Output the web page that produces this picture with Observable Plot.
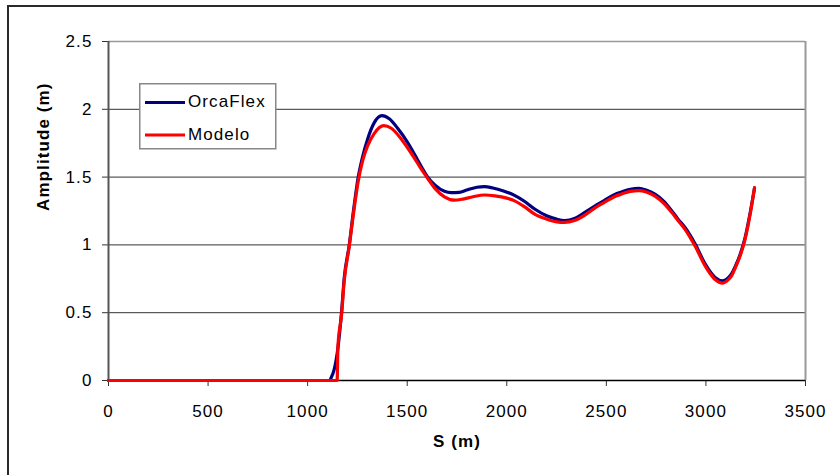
<!DOCTYPE html>
<html><head><meta charset="utf-8">
<script src="https://cdn.jsdelivr.net/npm/d3@7"></script>
<script src="https://cdn.jsdelivr.net/npm/@observablehq/plot@0.6"></script>
<style>
body{margin:0;background:#fff;}
#wrap{position:relative;width:840px;height:475px;overflow:hidden;font-family:"Liberation Sans",Arial,sans-serif;}
#frame{position:absolute;left:7px;top:5px;width:900px;height:500px;border-top:2px solid #2a2a2a;border-left:2px solid #2a2a2a;pointer-events:none;}
#chart{position:absolute;left:0;top:0;}
#chart svg text{letter-spacing:1.1px;}
#legend{position:absolute;left:139px;top:83px;}
</style>
</head><body>
<div id="wrap"><div id="frame"></div><div id="chart"></div><div id="legend"></div></div>
<script>
// OrcaFlex series
const S_orca = [0,1000,1110,1118,1133,1153,1170,1184,1209,1230,1254,1276,1301,1334,1373,1410,1452,1500,1536,1570,1603,1640,1687,1720,1760,1800,1850,1888,1930,1980,2039,2090,2140,2200,2250,2291,2340,2392,2440,2492,2540,2576,2620,2664,2700,2744,2790,2828,2860,2895,2946,2996,3046,3083,3110,3130,3150,3172,3197,3220,3244];
const A_orca = [0,0,0,0.02,0.08,0.25,0.5,0.76,1.0,1.25,1.5,1.65,1.78,1.90,1.953,1.93,1.86,1.76,1.67,1.58,1.50,1.44,1.395,1.385,1.388,1.405,1.425,1.43,1.42,1.40,1.365,1.32,1.265,1.215,1.19,1.18,1.195,1.24,1.285,1.33,1.37,1.39,1.41,1.417,1.405,1.375,1.32,1.252,1.19,1.128,1.006,0.86,0.76,0.735,0.755,0.79,0.85,0.93,1.055,1.22,1.42];
// Modelo series
const S_mod = [0,1000,1148,1152,1170,1184,1209,1230,1254,1276,1301,1334,1360,1382,1420,1460,1500,1536,1570,1603,1640,1687,1737,1780,1830,1888,1940,2000,2039,2090,2140,2200,2250,2291,2340,2392,2440,2492,2540,2576,2620,2664,2700,2744,2790,2828,2860,2895,2946,2996,3046,3083,3110,3130,3150,3172,3197,3220,3244];
const A_mod = [0,0,0,0.25,0.48,0.74,0.99,1.23,1.47,1.62,1.73,1.82,1.865,1.88,1.86,1.80,1.72,1.64,1.56,1.49,1.415,1.355,1.33,1.338,1.355,1.368,1.362,1.345,1.325,1.28,1.227,1.19,1.17,1.166,1.18,1.22,1.27,1.315,1.355,1.375,1.395,1.40,1.39,1.36,1.305,1.24,1.18,1.115,0.99,0.845,0.745,0.718,0.74,0.775,0.84,0.92,1.045,1.21,1.42];
const xTicks = [0,500,1000,1500,2000,2500,3000,3500];
const yTicks = [0,0.5,1,1.5,2,2.5];
const gridY = [0.5,1,1.5,2];
const seriesNames = ["OrcaFlex","Modelo"];
const seriesColors = ["#000080","#ff0000"];
const xLabel = "S (m)";
const yLabel = "Amplitude (m)";

const orca = S_orca.map((s,i)=>({s, a:A_orca[i]}));
const mod = S_mod.map((s,i)=>({s, a:A_mod[i]}));

const chart = Plot.plot({
  width: 840, height: 475,
  marginLeft: 108, marginRight: 35, marginTop: 41, marginBottom: 95,
  x: {domain: [0, 3500]},
  y: {domain: [0, 2.5]},
  style: {fontFamily: '"Liberation Sans", Arial, sans-serif', fontSize: "17px", color: "#000", background: "transparent"},
  marks: [
    Plot.ruleY(gridY, {stroke: "#333", strokeWidth: 1}),
    Plot.ruleY([yTicks[yTicks.length-1]], {stroke: "#999", strokeWidth: 1.5}),
    Plot.ruleX([xTicks[xTicks.length-1]], {stroke: "#999", strokeWidth: 2}),
    Plot.axisX({ticks: xTicks, tickSize: 6, tickPadding: 18, label: null, tickFormat: d => String(d), stroke: "#333"}),
    Plot.axisY({ticks: yTicks, tickSize: 6, tickPadding: 10, label: null, tickFormat: d => String(d), stroke: "#333"}),
    Plot.ruleX([0], {stroke: "#555", strokeWidth: 2}),
    Plot.ruleY([0], {stroke: "#000", strokeWidth: 1.5}),
    Plot.line(orca, {x: "s", y: "a", stroke: seriesColors[0], strokeWidth: 3.2, curve: "monotone-x"}),
    Plot.line(mod, {x: "s", y: "a", stroke: seriesColors[1], strokeWidth: 3.2, curve: "monotone-x"}),
    Plot.text([xLabel], {text: d => d, frameAnchor: "bottom", dy: 66, fontWeight: "bold", fontSize: 17}),
    Plot.text([yLabel], {text: d => d, frameAnchor: "left", dx: -65, rotate: -90, fontWeight: "bold", fontSize: 17})
  ]
});
document.getElementById("chart").appendChild(chart);

// legend
const lg = d3.select("#legend").append("svg").attr("width", 140).attr("height", 70)
  .style("font-family", '"Liberation Sans", Arial, sans-serif');
lg.append("rect").attr("x", 0.75).attr("y", 0.75).attr("width", 136).attr("height", 65)
  .attr("fill", "#fff").attr("stroke", "#888").attr("stroke-width", 1.5);
seriesNames.forEach((name, i) => {
  const yy = 19.5 + i * 32.5;
  lg.append("line").attr("x1", 6).attr("x2", 46).attr("y1", yy).attr("y2", yy)
    .attr("stroke", seriesColors[i]).attr("stroke-width", 3);
  lg.append("text").attr("x", 49).attr("y", yy - 1).attr("dominant-baseline", "central")
    .attr("font-size", 17).style("letter-spacing", "1.1px").attr("fill", "#000").text(name);
});
</script>
</body></html>
